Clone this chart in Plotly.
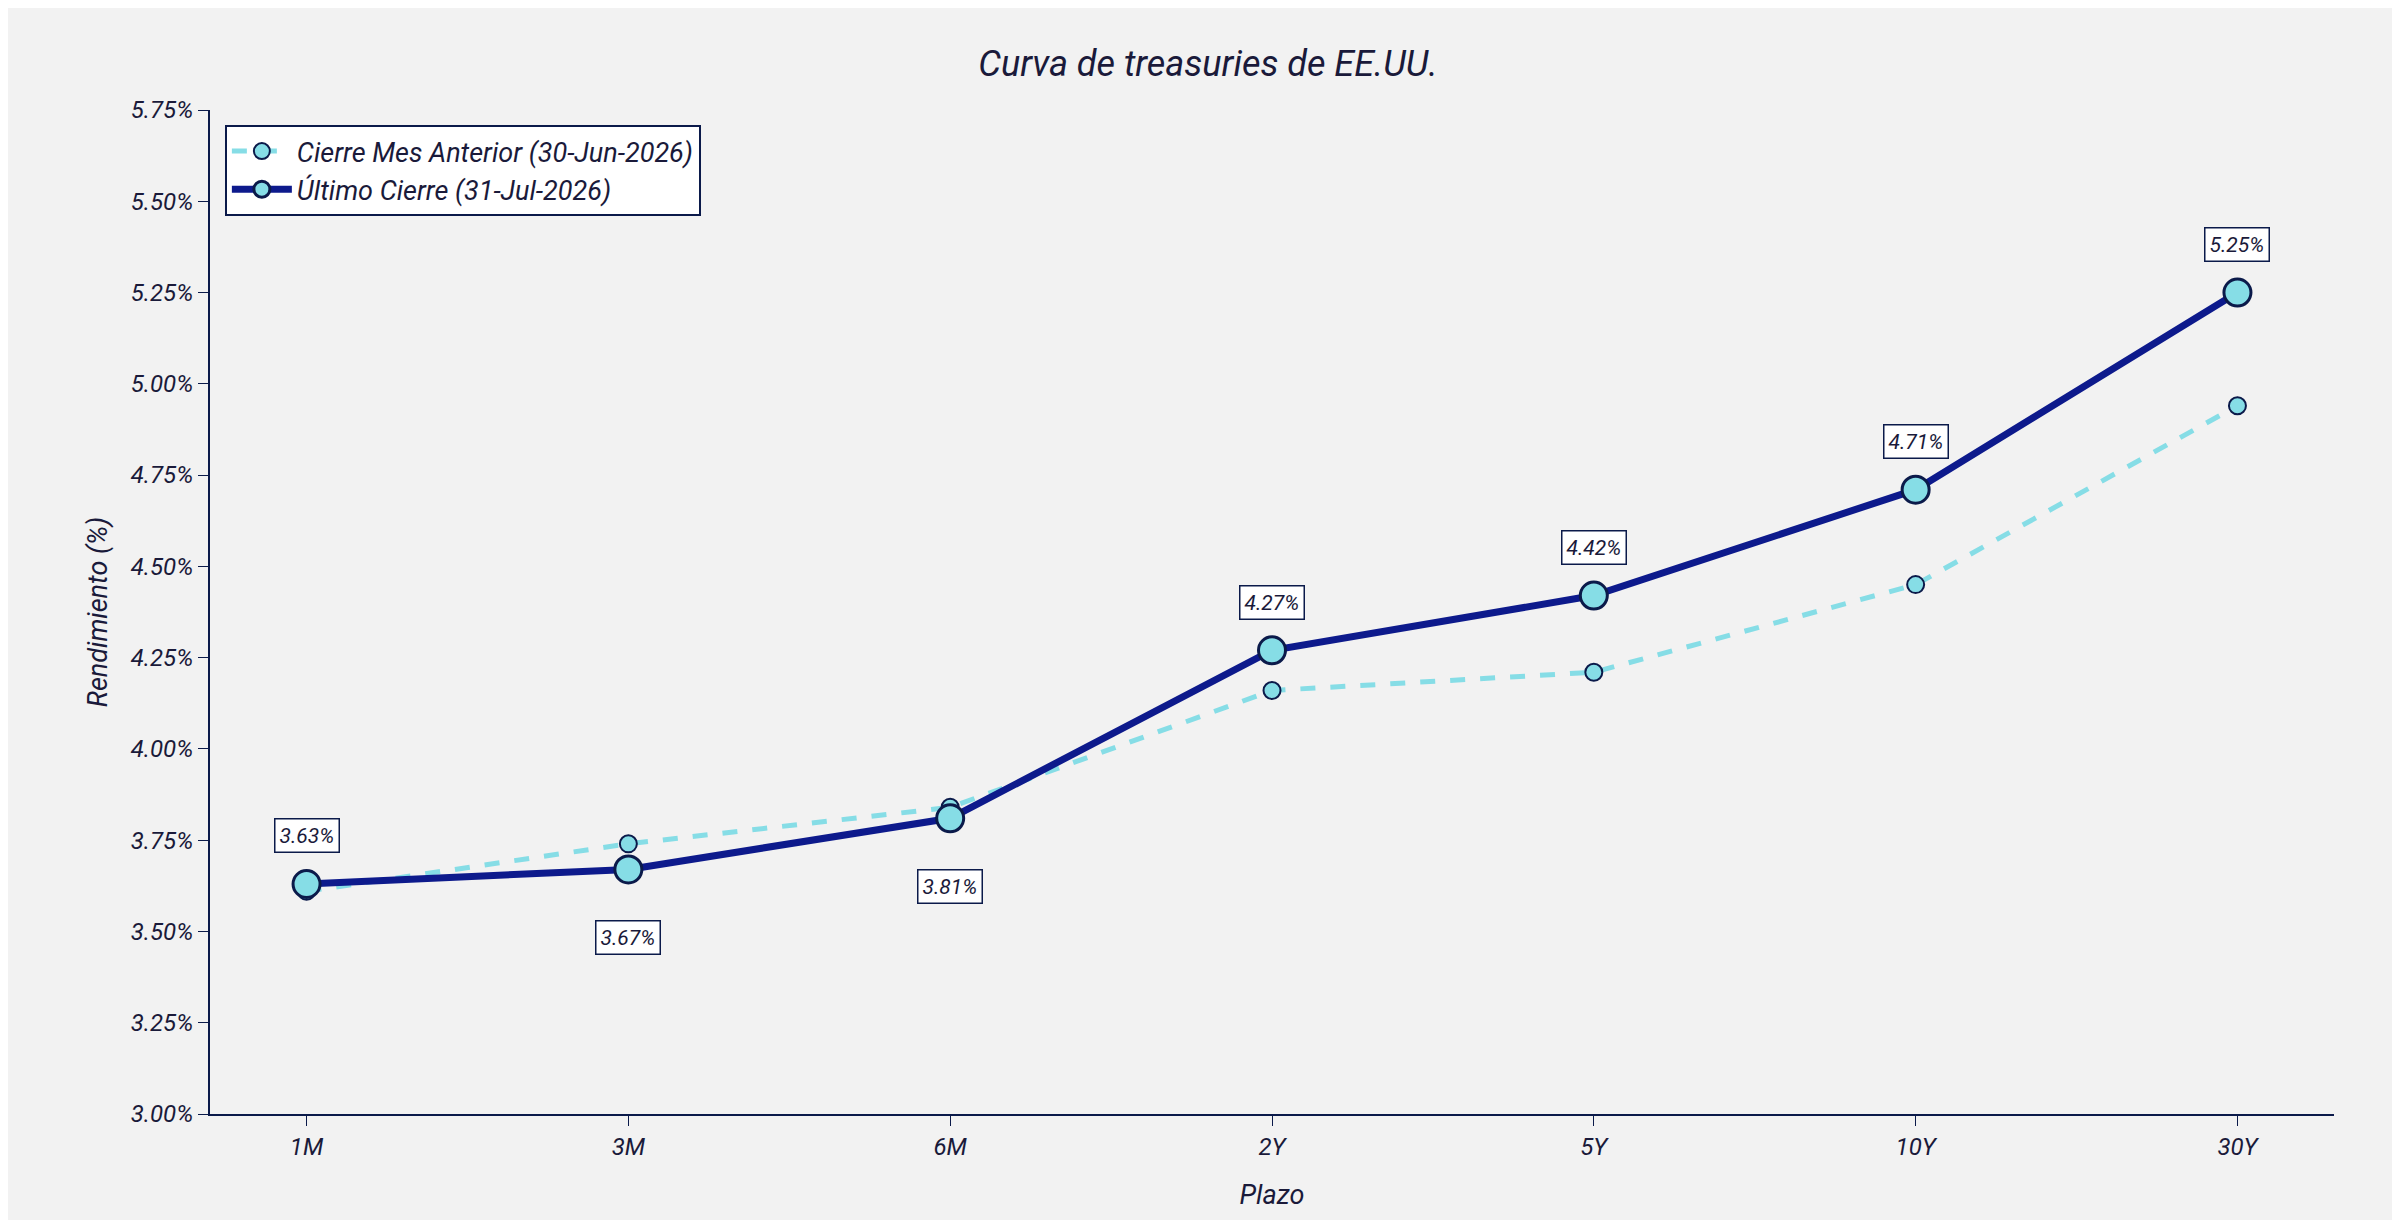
import plotly.graph_objects as go

plazos = ["1M", "3M", "6M", "2Y", "5Y", "10Y", "30Y"]
cierre_anterior = [3.61, 3.74, 3.84, 4.16, 4.21, 4.45, 4.94]
ultimo_cierre = [3.63, 3.67, 3.81, 4.27, 4.42, 4.71, 5.25]
label_below = ["3M", "6M"]

NAVY = "#0d1a8c"
CYAN = "#86dde6"
FONT = "Roboto"

fig = go.Figure()
fig.add_trace(go.Scatter(
    x=plazos, y=cierre_anterior, mode="lines+markers",
    name="<i>Cierre Mes Anterior (30-Jun-2026)</i>",
    line=dict(color=CYAN, width=5, dash="dash"),
    marker=dict(size=17, color=CYAN, line=dict(color="#0b1a4a", width=2)),
))
fig.add_trace(go.Scatter(
    x=plazos, y=ultimo_cierre, mode="lines+markers",
    name="<i>Último Cierre (31-Jul-2026)</i>",
    line=dict(color=NAVY, width=7),
    marker=dict(size=27, color=CYAN, line=dict(color="#0b1a4a", width=3)),
))

# etiquetas del último cierre
for p, v in zip(plazos, ultimo_cierre):
    below = p in label_below
    fig.add_annotation(
        x=p, y=v, text=f"<i>{v:.2f}%</i>", showarrow=False,
        yshift=-68 if below else 48,
        font=dict(family=FONT, size=21, color="#1a1a3a"),
        bgcolor="white", bordercolor="#0b1a4a", borderwidth=1.5, borderpad=4,
    )

fig.update_layout(
    width=2400, height=1220,
    paper_bgcolor="#f2f2f2", plot_bgcolor="#f2f2f2",
    margin=dict(l=202, r=74, t=102, b=114),
    font=dict(family=FONT, color="#1a1a3a", size=24),
    title=dict(text="<i>Curva de treasuries de EE.UU.</i>", x=0.5, xanchor="center",
               y=0.965, font=dict(size=36, family=FONT, color="#1a1a3a")),
    showlegend=True,
    legend=dict(x=0.007, y=0.985, xanchor="left", yanchor="top",
                bgcolor="white", bordercolor="#0b1a4a", borderwidth=2,
                itemwidth=60, font=dict(size=27, family=FONT)),
)
fig.update_xaxes(
    title=dict(text="<i>Plazo</i>", font=dict(size=27), standoff=25),
    range=[-0.3, 6.3], showgrid=False, showline=True, linecolor="#0b1a4a", linewidth=2,
    ticks="outside", ticklen=10, tickcolor="#0b1a4a", tickfont=dict(size=24),
    tickvals=plazos, ticktext=[f"<i>{p}</i>" for p in plazos], zeroline=False,
)
yt = [3.0 + 0.25 * i for i in range(12)]
fig.update_yaxes(
    title=dict(text="<i>Rendimiento (%)</i>", font=dict(size=27), standoff=15),
    range=[3.0, 5.75], showgrid=False, showline=True, linecolor="#0b1a4a", linewidth=2,
    ticks="outside", ticklen=10, tickcolor="#0b1a4a", tickfont=dict(size=24),
    tickvals=yt, ticktext=[f"<i>{v:.2f}%</i>" for v in yt], zeroline=False,
)

fig.write_html("out.html")
